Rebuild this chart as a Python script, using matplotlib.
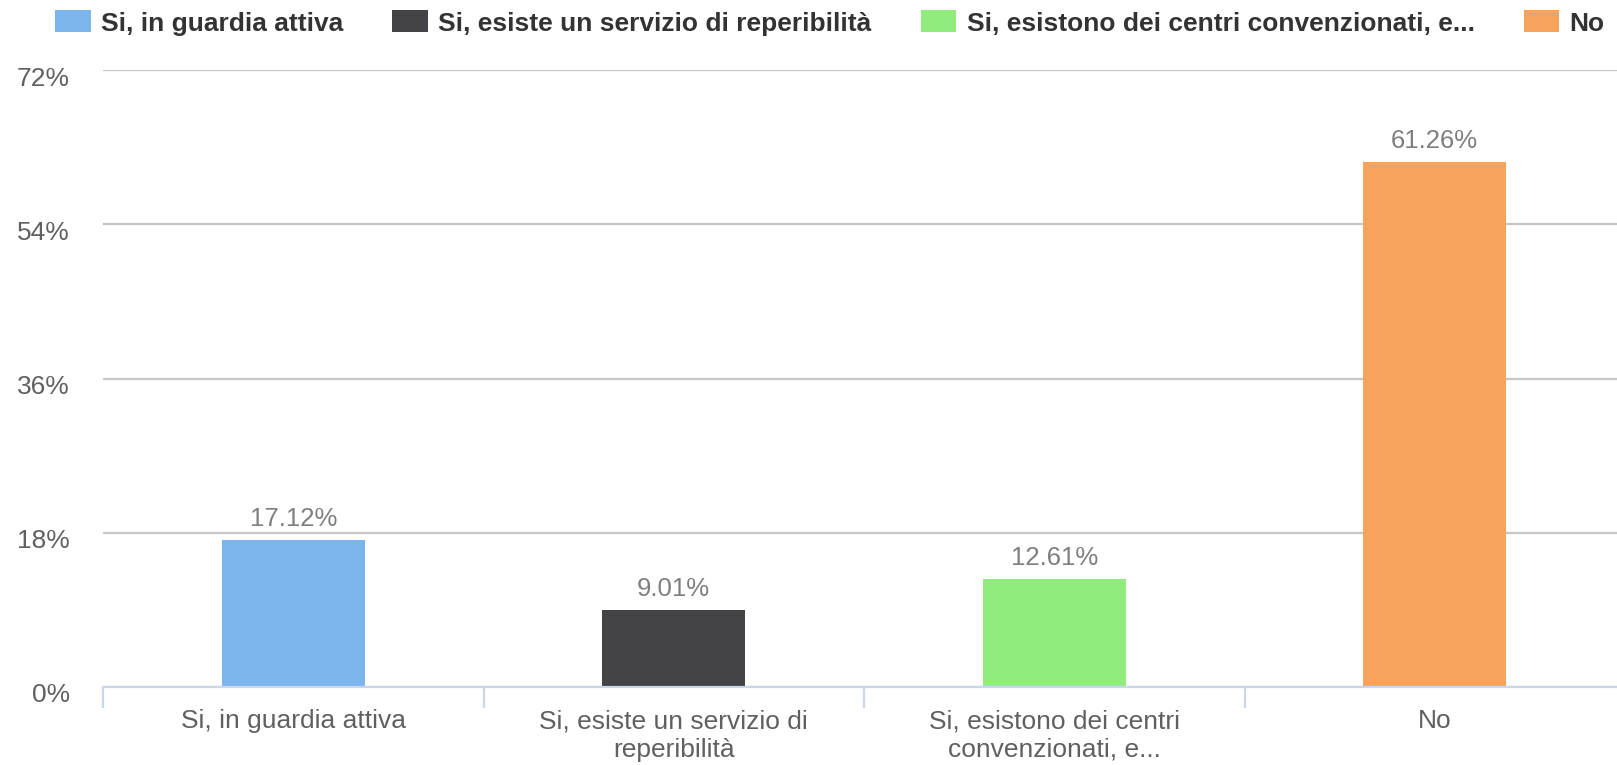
import numpy as np
import matplotlib.pyplot as plt
import matplotlib.transforms as mtransforms
from matplotlib.patches import Patch

plt.rcParams['font.family'] = ['Liberation Sans', 'DejaVu Sans']

# Chart data
CATEGORIES = ['Si, in guardia attiva',
              'Si, esiste un servizio di\nreperibilità',
              'Si, esistono dei centri\nconvenzionati, e...',
              'No']
LEGEND_LABELS = ['Si, in guardia attiva',
                 'Si, esiste un servizio di reperibilità',
                 'Si, esistono dei centri convenzionati, e...',
                 'No']
VALUES = [17.12, 9.01, 12.61, 61.26]
COLOURS = ['#7cb5ec', '#434348', '#90ed7d', '#f7a35c']
Y_TICKS = [0, 18, 36, 54, 72]

fig = plt.figure(figsize=(16.17, 7.65), dpi=100)
ax = fig.add_axes([103 / 1617, 1 - 687 / 765, 1522 / 1617, 617 / 765])

x_pos = np.arange(len(VALUES))
bars = ax.bar(x_pos, VALUES, width=0.377, color=COLOURS, zorder=3)

for bar, value in zip(bars, VALUES):
    ax.annotate(f'{value:.2f}%',
                (bar.get_x() + bar.get_width() / 2, bar.get_height()),
                xytext=(0, 21), textcoords='offset pixels',
                ha='center', va='center', fontsize=18.5, color='#7f7f7f')

ax.set_xlim(-0.5, len(VALUES) - 0.5)
ax.set_ylim(0, 72)
ax.set_yticks(Y_TICKS)
ax.set_yticklabels([f'{t}%' for t in Y_TICKS])
ax.yaxis.grid(True, color='#c6c6c6', lw=1.6, zorder=0)
ax.tick_params(axis='y', length=0, pad=24, labelsize=19,
               labelcolor='#606060')
# labels sit a little below their grid lines
shift = mtransforms.ScaledTranslation(0, -6 / 100, fig.dpi_scale_trans)
for label in ax.get_yticklabels():
    label.set_transform(label.get_transform() + shift)

ax.set_xticks(x_pos)
ax.set_xticklabels(CATEGORIES, linespacing=1.25)
ax.tick_params(axis='x', which='major', length=0, pad=16, labelsize=19,
               labelcolor='#606060')
ax.set_xticks(np.arange(-0.5, len(VALUES)), minor=True)
ax.tick_params(axis='x', which='minor', length=15, width=1.6,
               color='#ccd6eb')

for side in ['top', 'right', 'left']:
    ax.spines[side].set_visible(False)
ax.spines['bottom'].set_color('#ccd6eb')
ax.spines['bottom'].set_linewidth(1.6)
ax.spines['bottom'].set_zorder(4)

handles = [Patch(facecolor=c, edgecolor='none') for c in COLOURS]
leg = fig.legend(handles, LEGEND_LABELS, loc='center left',
                 bbox_to_anchor=(55 / 1617, 1 - 23 / 765), ncol=4,
                 frameon=False, handlelength=1.35, handleheight=0.9,
                 handletextpad=0.4, columnspacing=1.85, borderaxespad=0,
                 borderpad=0, prop={'weight': 'bold', 'size': 19})
for text in leg.get_texts():
    text.set_color('#333333')

plt.savefig('out.png', dpi=100)
